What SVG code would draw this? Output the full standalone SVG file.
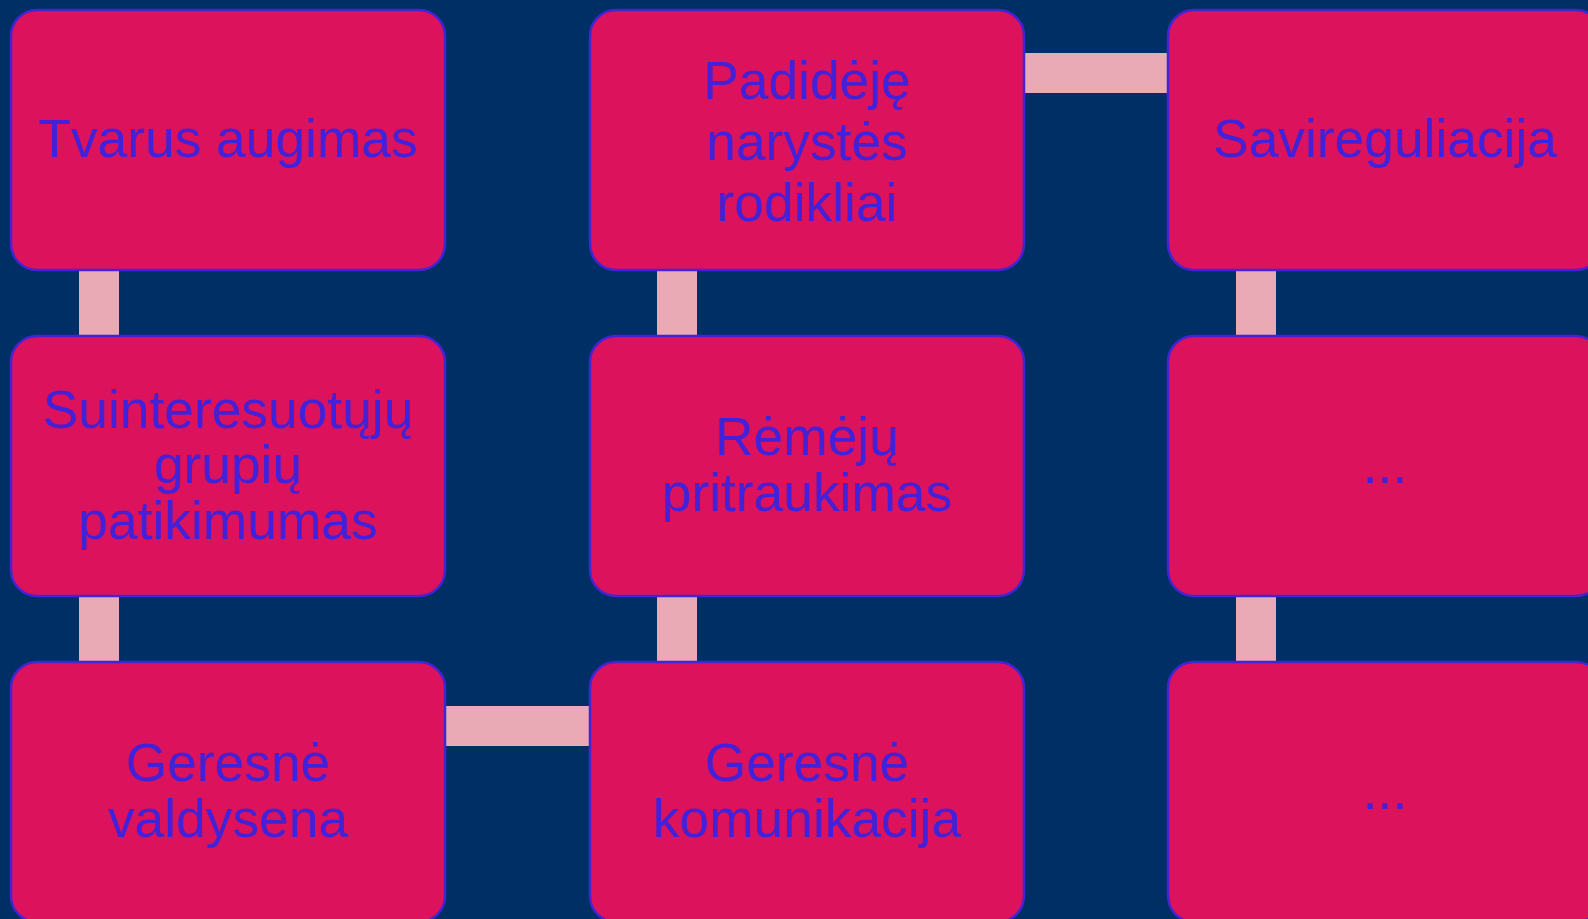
<svg xmlns="http://www.w3.org/2000/svg" width="1588" height="919" viewBox="0 0 1588 919">
<style>
.bg{fill:#002F66}
.node rect{fill:#DC135C;stroke:#4324D4;stroke-width:2.5}
.node text{font-family:"Liberation Sans",Arial,sans-serif;font-size:53.33px;fill:#4221D8;text-anchor:middle}
.conn rect{fill:#E9AAB5}
</style>
<rect class="bg" x="0" y="0" width="1588" height="919"/>
<g id="connectors" class="conn">
<rect x="79" y="270" width="40" height="66"/>
<rect x="79" y="596" width="40" height="66"/>
<rect x="657" y="270" width="40" height="66"/>
<rect x="657" y="596" width="40" height="66"/>
<rect x="1236" y="270" width="40" height="66"/>
<rect x="1236" y="596" width="40" height="66"/>
<rect x="1024" y="53" width="144" height="40"/>
<rect x="446" y="706" width="144" height="40"/>
</g>
<g id="node-tvarus" class="node">
<rect x="11" y="10" width="434" height="260" rx="26"/>
<text x="228" y="157">Tvarus augimas</text>
</g>
<g id="node-suinteresuotuju" class="node">
<rect x="11" y="336" width="434" height="260" rx="26"/>
<text x="228" y="427.5">Suinteresuotųjų</text>
<text x="228" y="483">grupių</text>
<text x="228" y="538.5">patikimumas</text>
</g>
<g id="node-valdysena" class="node">
<rect x="11" y="662" width="434" height="260" rx="26"/>
<text x="228" y="781">Geresnė</text>
<text x="228" y="836.5">valdysena</text>
</g>
<g id="node-padideje" class="node">
<rect x="590" y="10" width="434" height="260" rx="26"/>
<text x="807" y="98.5">Padidėję</text>
<text x="807" y="159.5">narystės</text>
<text x="807" y="220.5">rodikliai</text>
</g>
<g id="node-remeju" class="node">
<rect x="590" y="336" width="434" height="260" rx="26"/>
<text x="807" y="455">Rėmėjų</text>
<text x="807" y="510.5">pritraukimas</text>
</g>
<g id="node-komunikacija" class="node">
<rect x="590" y="662" width="434" height="260" rx="26"/>
<text x="807" y="781">Geresnė</text>
<text x="807" y="836.5">komunikacija</text>
</g>
<g id="node-savireguliacija" class="node">
<rect x="1168" y="10" width="434" height="260" rx="26"/>
<text x="1385" y="157">Savireguliacija</text>
</g>
<g id="node-dots1" class="node">
<rect x="1168" y="336" width="434" height="260" rx="26"/>
<text x="1385" y="483">...</text>
</g>
<g id="node-dots2" class="node">
<rect x="1168" y="662" width="434" height="260" rx="26"/>
<text x="1385" y="809">...</text>
</g>
</svg>
